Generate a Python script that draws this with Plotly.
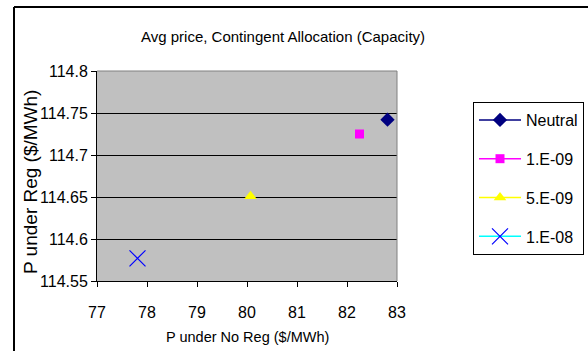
import plotly.graph_objects as go

series_names = ["Neutral", "1.E-09", "5.E-09", "1.E-08"]
x_values = [82.81, 82.25, 80.07, 77.81]
y_values = [114.742, 114.725, 114.651, 114.577]
line_colors = ["#000080", "#FF00FF", "#FFFF00", "#00FFFF"]
marker_colors = ["#000080", "#FF00FF", "#FFFF00", "#0000FF"]
marker_symbols = ["diamond", "square", "triangle-up", "x-thin-open"]
marker_sizes = [11, 9, 11, 16]

x_ticks = [77, 78, 79, 80, 81, 82, 83]
y_ticks = [114.55, 114.6, 114.65, 114.7, 114.75, 114.8]
y_tick_labels = ["114.55", "114.6", "114.65", "114.7", "114.75", "114.8"]

FONT = "Liberation Sans, Arial, sans-serif"

W, H = 588, 351
L, R, T, B = 97, 397, 71, 281
pw, ph = R - L, B - T


def px(xp):
    return (xp - L) / pw


def py(yp):
    return (B - yp) / ph


fig = go.Figure()
for i, name in enumerate(series_names):
    mk = dict(color=marker_colors[i], size=marker_sizes[i], symbol=marker_symbols[i])
    if marker_symbols[i] == "x-thin-open":
        mk["line"] = dict(color=marker_colors[i], width=1.2)
    else:
        mk["line"] = dict(width=0)
    fig.add_trace(go.Scatter(
        x=[x_values[i]], y=[y_values[i]], name=name, mode="lines+markers",
        line=dict(color=line_colors[i], width=1.5), marker=mk,
        legendgroup=name, showlegend=True,
    ))

fig.update_layout(
    width=W, height=H,
    margin=dict(l=L, r=W - R, t=T, b=H - B, autoexpand=False),
    paper_bgcolor="white",
    plot_bgcolor="#C0C0C0",
    font=dict(family=FONT, size=16, color="black"),
    showlegend=True,
    legend=dict(
        x=px(473), y=py(102), xanchor="left", yanchor="top",
        bgcolor="white", bordercolor="black", borderwidth=1,
        font=dict(family=FONT, size=16, color="black"),
        tracegroupgap=15, itemwidth=42,
    ),
    xaxis=dict(
        range=[77, 83], tickvals=x_ticks, ticktext=[str(v) for v in x_ticks],
        showgrid=False, zeroline=False, showline=True, linecolor="black", linewidth=1,
        ticks="outside", ticklen=5, tickcolor="black", ticklabelstandoff=12,
        tickfont=dict(family=FONT, size=16),
    ),
    yaxis=dict(
        range=[114.55, 114.8], tickvals=y_ticks, ticktext=y_tick_labels,
        showgrid=True, gridcolor="black", gridwidth=1, zeroline=False,
        showline=True, linecolor="black", linewidth=1,
        ticks="outside", ticklen=5, tickcolor="black",
        tickfont=dict(family=FONT, size=16),
    ),
    annotations=[
        dict(text="Avg price, Contingent Allocation (Capacity)", xref="paper", yref="paper",
             x=px(283), y=py(37), xanchor="center", yanchor="middle", showarrow=False,
             font=dict(family=FONT, size=15)),
        dict(text="P under No Reg ($/MWh)", xref="paper", yref="paper",
             x=px(247), y=py(337), xanchor="center", yanchor="middle", showarrow=False,
             font=dict(family=FONT, size=14.5)),
        dict(text="P under Reg ($/MWh)", xref="paper", yref="paper",
             x=px(30), y=py(182), xanchor="center", yanchor="middle", showarrow=False,
             textangle=-90, font=dict(family=FONT, size=19)),
    ],
    shapes=[
        dict(type="line", xref="paper", yref="paper", x0=0, x1=1, y0=1, y1=1,
             line=dict(color="#808080", width=1), layer="above"),
        dict(type="line", xref="paper", yref="paper", x0=1, x1=1, y0=0, y1=1,
             line=dict(color="#808080", width=1), layer="above"),
        dict(type="line", xref="paper", yref="paper", x0=px(14), x1=px(14), y0=py(7), y1=py(352),
             line=dict(color="black", width=2)),
        dict(type="line", xref="paper", yref="paper", x0=px(14), x1=px(590), y0=py(7), y1=py(7),
             line=dict(color="black", width=2)),
    ],
)

fig.write_html("out.html")
